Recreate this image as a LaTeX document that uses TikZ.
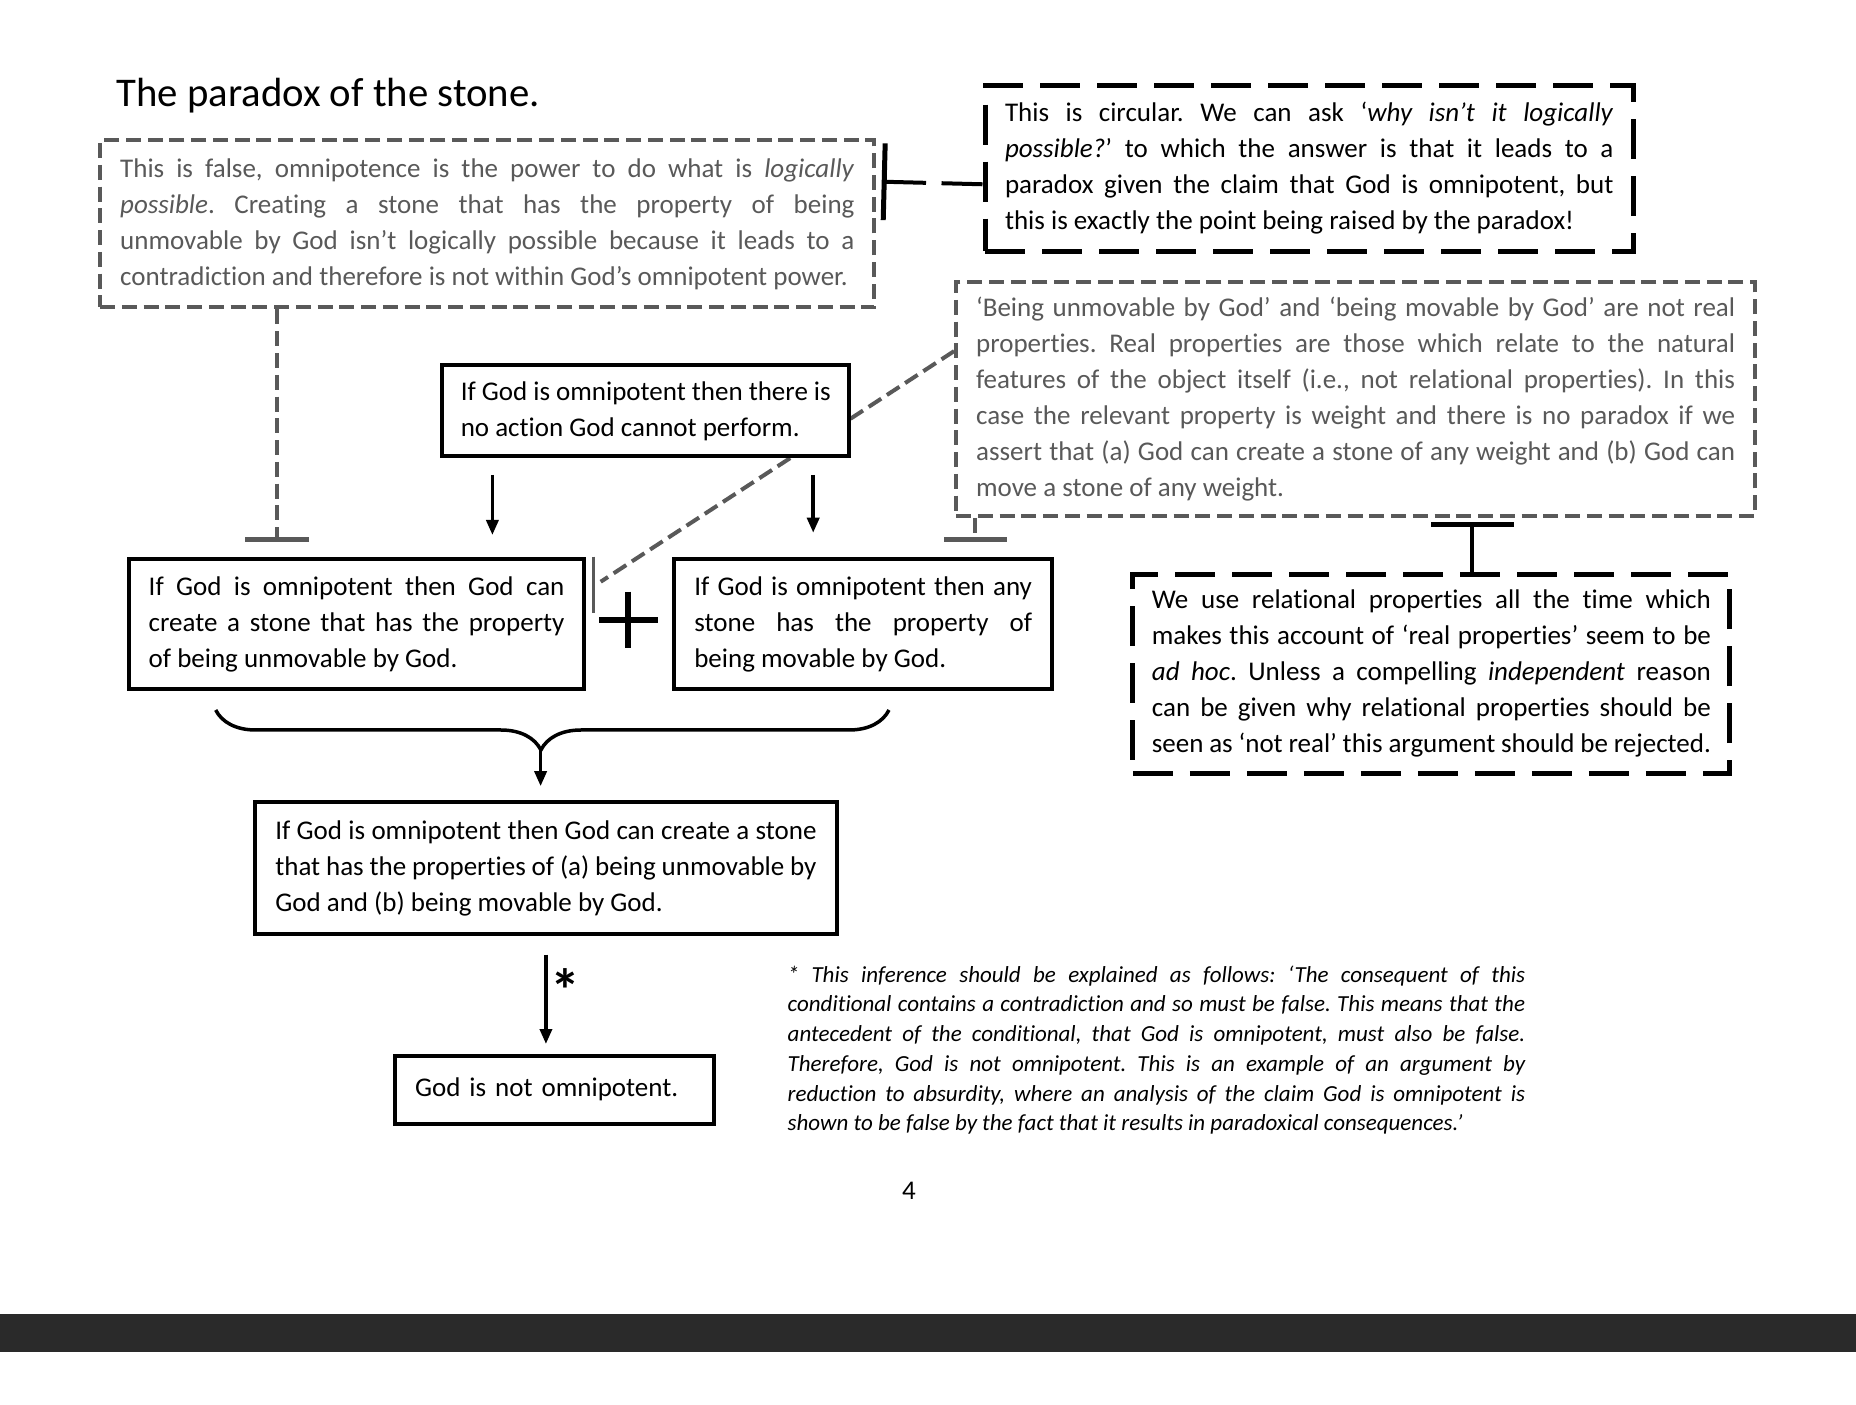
\documentclass[tikz,border=0pt]{standalone}
\usepackage{fontspec}
\setmainfont{Carlito}[Ligatures={TeX,NoCommon}]
\usetikzlibrary{arrows.meta, decorations.pathreplacing, backgrounds}
\definecolor{textgray}{HTML}{595959}
\definecolor{footbar}{HTML}{2A2A2A}
\newcommand{\bodysize}{\fontsize{10.8}{14.4}\selectfont}
\newcommand{\notesize}{\fontsize{9.2}{11.9}\selectfont}

\begin{document}
\tolerance=10000 \hyphenpenalty=10000 \frenchspacing
\begin{tikzpicture}[x=0.4pt, y=-0.4pt,
  claim/.style={draw=black, line width=1.6pt, fill=white, anchor=north west, align=justify, inner xsep=8pt, inner ysep=0pt, font=\bodysize},
  reply/.style={draw=textgray, line width=1.6pt, dash pattern=on 6pt off 2.7pt, fill=white, text=textgray, anchor=north west, align=justify, inner xsep=8pt, inner ysep=0pt, font=\bodysize},
  rejoinder/.style={draw=black, line width=2pt, dash pattern=on 16pt off 6.8pt, fill=white, anchor=north west, align=justify, inner xsep=8pt, inner ysep=0pt, font=\bodysize},
  arrow/.style={-{Triangle[length=6pt, width=4.8pt]}, line width=1.4pt},
  blocker/.style={draw=black, line width=1.6pt},
  grayblock/.style={draw=textgray, line width=1.6pt, dash pattern=on 6pt off 2.7pt},
  brace/.style={decorate, decoration={brace, mirror, amplitude=16pt, aspect=0.483}, line width=1.4pt},
]
\useasboundingbox (0,0) rectangle (1856,1405);

\node[anchor=base west, inner sep=0pt, font=\fontsize{16.3}{19}\selectfont] (title) at (116,107) {The paradox of the stone.};

\node[reply, text width=293.7pt, minimum height=66.8pt] (false) at (98.2,138.5)
  {This is false, omnipotence is the power to do what is \textit{logically}\linebreak
   \textit{possible}. Creating a stone that has the property of being\linebreak
   unmovable by God isn’t logically possible because it leads to a\linebreak
   contradiction and therefore is not within God’s omnipotent power.};
\node[rejoinder, text width=243.4pt, minimum height=66.3pt] (circular) at (982.5,82.9)
  {This is circular. We can ask ‘\textit{why isn’t it logically}\linebreak
   \textit{possible?}’ to which the answer is that it leads to a\linebreak
   paradox given the claim that God is omnipotent, but\linebreak
   this is exactly the point being raised by the paradox!};
\node[claim, text width=148pt, inner xsep=7.4pt, minimum height=36.4pt] (premise) at (440.3,363.4)
  {If God is omnipotent then there is\linebreak no action God cannot perform.};
\node[claim, text width=166.3pt, minimum height=51.6pt] (unmov) at (126.7,557.5)
  {If God is omnipotent then God can\linebreak
   create a stone that has the property\linebreak
   of being unmovable by God.};
\node[claim, text width=135.1pt, minimum height=51.6pt] (mov) at (672.3,557.5)
  {If God is omnipotent then any\linebreak
   stone has the property of\linebreak
   being movable by God.};
\node[reply, text width=303.6pt, minimum height=93.3pt] (realprop) at (954.1,280.5)
  {‘Being unmovable by God’ and ‘being movable by God’ are not real\linebreak
   properties. Real properties are those which relate to the natural\linebreak
   features of the object itself (i.e., not relational properties). In this\linebreak
   case the relevant property is weight and there is no paradox if we\linebreak
   assert that (a) God can create a stone of any weight and (b) God can\linebreak
   move a stone of any weight.};
\node[rejoinder, text width=223.6pt, inner xsep=7.6pt, minimum height=79.6pt] (relational) at (1130.4,571.7)
  {We use relational properties all the time which\linebreak
   makes this account of ‘real properties’ seem to be\linebreak
   \textit{ad hoc}. Unless a compelling \textit{independent} reason\linebreak
   can be given why relational properties should be\linebreak
   seen as ‘not real’ this argument should be rejected.};
\node[claim, text width=216.5pt, minimum height=52.6pt] (both) at (253.3,800.2)
  {If God is omnipotent then God can create a stone\linebreak
   that has the properties of (a) being unmovable by\linebreak
   God and (b) being movable by God.};
\node[claim, text width=111.4pt, align=left, minimum height=27.4pt] (notomni) at (393,1053.5)
  {God is not omnipotent.};

\node[anchor=base west, inner sep=0pt, text width=295pt, align=justify, font=\notesize\itshape] (note) at (787.2,982)
  {* This inference should be explained as follows: ‘The consequent of this\linebreak
   conditional contains a contradiction and so must be false. This means that the\linebreak
   antecedent of the conditional, that God is omnipotent, must also be false.\linebreak
   Therefore, God is not omnipotent. This is an example of an argument by\linebreak
   reduction to absurdity, where an analysis of the claim God is omnipotent is\linebreak
   shown to be false by the fact that it results in paradoxical consequences.’};
\node[font=\bodysize, inner sep=0pt] (pagenum) at (909,1191) {4};

\coordinate (abbar) at (881.7,181.7);
\coordinate (adbar) at (277,542);
\coordinate (febar) at (975,542);
\coordinate (gfbar) at (1472.4,521.7);
\coordinate (colL) at (492.4,0);
\coordinate (colR) at (813.2,0);
\coordinate (plus) at (628.3,620);
\coordinate (bracetip) at (540.6,750);

% the reply to the property box runs behind the premise box
\begin{scope}[on background layer]
\fill[white] (0,0) rectangle (1856,1405);
\draw[grayblock] ([yshift=19.2pt]realprop.west) -- ([xshift=5.7pt,yshift=-9.7pt]unmov.north east);
\end{scope}
\draw[textgray, line width=1.3pt] ([xshift=2.8pt,yshift=0.3pt]unmov.north east) -- ([xshift=2.8pt,yshift=-22.2pt]unmov.north east);

\draw[blocker, dash pattern=on 16.4pt off 6.2pt, -{Bar[width=30.7pt, line width=2pt]}] ([yshift=-6.4pt]circular.west) -- (abbar);
\draw[grayblock, -{Bar[width=25.6pt, line width=2pt]}] (false.south -| adbar) -- (adbar);
\draw[grayblock, -{Bar[width=25.2pt, line width=2pt]}] (realprop.south -| febar) -- (febar);
\draw[blocker, -{Bar[width=33pt, line width=2pt]}] (relational.north -| gfbar) -- (gfbar);

\draw[arrow, shorten <=6.6pt, shorten >=9pt] (premise.south -| colL) -- (unmov.north -| colL);
\draw[arrow, shorten <=6.6pt, shorten >=9.9pt] (premise.south -| colR) -- (mov.north -| colR);

\draw[line width=2.4pt] ([xshift=-11.7pt]plus) -- ([xshift=11.7pt]plus);
\draw[line width=2.4pt] ([yshift=11.3pt]plus) -- ([yshift=-11.3pt]plus);

\draw[brace] (215.7,710) -- (889,710);
\draw[arrow, shorten >=5.6pt] (bracetip) -- (both.north -| bracetip);

\draw[arrow, shorten <=7.6pt, shorten >=3.8pt] (both.south) -- (both.south |- notomni.north);
\node[font=\bfseries\fontsize{24}{24}\selectfont, inner sep=0pt] (star) at (565,990) {*};

\fill[footbar] (0,1313.9) rectangle (1856,1351.8);
\end{tikzpicture}
\end{document}
